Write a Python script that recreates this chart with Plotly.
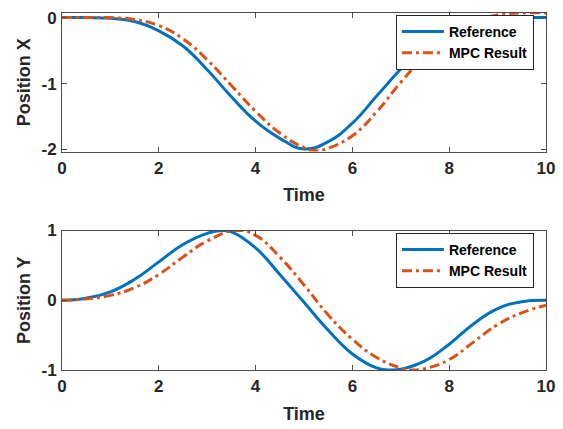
import plotly.graph_objects as go

# ---- data ----
t_x_ref = [0, 0.5, 1.0, 1.5, 2.0, 2.5, 3.0, 3.5, 4.0, 4.5, 5.0, 5.5, 6.0, 6.5, 7.0, 7.5, 8.0, 8.5, 9.0, 9.5, 10]
x_ref = [0, 0.0, -0.01, -0.06, -0.20, -0.43, -0.79, -1.20, -1.57, -1.83, -1.99, -1.88, -1.60, -1.19, -0.78, -0.42, -0.18, -0.06, -0.01, 0.0, 0.0]

t_x_mpc = [0, 0.5, 1.0, 1.5, 2.0, 2.5, 3.0, 3.5, 4.0, 4.5, 5.0, 5.25, 5.5, 6.0, 6.5, 7.0, 7.5, 8.0, 8.5, 9.0, 9.5, 10]
x_mpc = [0, 0.0, 0.0, -0.03, -0.12, -0.32, -0.64, -1.03, -1.42, -1.75, -1.97, -2.02, -1.98, -1.79, -1.43, -0.98, -0.58, -0.27, -0.07, 0.04, 0.07, 0.07]

t_y_ref = [0, 0.5, 1.0, 1.5, 2.0, 2.5, 3.0, 3.3, 3.5, 4.0, 4.5, 5.0, 5.5, 6.0, 6.5, 6.8, 7.0, 7.5, 8.0, 8.5, 9.0, 9.5, 10]
y_ref = [0, 0.03, 0.12, 0.30, 0.55, 0.80, 0.96, 1.0, 0.98, 0.75, 0.37, -0.03, -0.43, -0.77, -0.97, -1.0, -0.99, -0.87, -0.63, -0.34, -0.12, -0.02, 0.0]

t_y_mpc = [0, 0.5, 1.0, 1.5, 2.0, 2.5, 3.0, 3.6, 4.0, 4.5, 5.0, 5.5, 6.0, 6.5, 7.0, 7.2, 7.5, 8.0, 8.5, 9.0, 9.5, 10]
y_mpc = [0, 0.02, 0.07, 0.18, 0.37, 0.62, 0.85, 1.0, 0.93, 0.62, 0.22, -0.21, -0.56, -0.82, -0.97, -1.0, -0.98, -0.85, -0.60, -0.35, -0.18, -0.07]

x_ticks = [0, 2, 4, 6, 8, 10]
x_ticktext = ["0", "2", "4", "6", "8", "10"]
yx_ticks = [-2, -1, 0]
yx_ticktext = ["-2", "-1", "0"]
yy_ticks = [-1, 0, 1]
yy_ticktext = ["-1", "0", "1"]

series_names = ["Reference", "MPC Result"]

# ---- styling ----
BLUE = "#0072BD"
ORANGE = "#D95319"
AX = "#4d4d4d"
TXT = "#262626"
FONT = "Arial, Liberation Sans, sans-serif"
DASHDOT = "10px,4px,3px,4px"

fig = go.Figure()

def add(t, v, name, color, dash, xa, ya, leg):
    fig.add_trace(go.Scatter(
        x=t, y=v, name=name, mode="lines",
        line=dict(color=color, width=3, dash=dash, shape="spline", smoothing=1.3),
        xaxis=xa, yaxis=ya, legend=leg))

add(t_x_ref, x_ref, series_names[0], BLUE, "solid", "x", "y", "legend")
add(t_x_mpc, x_mpc, series_names[1], ORANGE, DASHDOT, "x", "y", "legend")
add(t_y_ref, y_ref, series_names[0], BLUE, "solid", "x2", "y2", "legend2")
add(t_y_mpc, y_mpc, series_names[1], ORANGE, DASHDOT, "x2", "y2", "legend2")

tickfont = dict(family=FONT, size=17, color=TXT, weight="bold")
titlefont = dict(family=FONT, size=18, color=TXT, weight="bold")

common_x = dict(range=[0, 10], tickvals=x_ticks, ticktext=x_ticktext,
                showline=True, linecolor=AX, linewidth=1, mirror="allticks",
                ticks="inside", ticklen=5, tickcolor=AX, showgrid=False, zeroline=False,
                tickfont=tickfont, ticklabelstandoff=1,
                title=dict(text="Time", font=titlefont, standoff=11))
common_y = dict(showline=True, linecolor=AX, linewidth=1, mirror="allticks",
                ticks="inside", ticklen=5, tickcolor=AX, showgrid=False, zeroline=False,
                tickfont=tickfont, ticklabelstandoff=1)

legend_style = dict(font=dict(family=FONT, size=14, color="#000000", weight="bold"),
                    bgcolor="white", bordercolor=TXT, borderwidth=1,
                    xanchor="right", yanchor="top", itemwidth=42, tracegroupgap=0)

fig.update_layout(
    width=563, height=429,
    margin=dict(l=62, r=17, t=4, b=59),
    paper_bgcolor="white", plot_bgcolor="white",
    xaxis=dict(domain=[0, 1], anchor="y", **common_x),
    yaxis=dict(domain=[0.612, 1.0], anchor="x", range=[-2.03, 0.07],
               tickvals=yx_ticks, ticktext=yx_ticktext,
               title=dict(text="Position X", font=titlefont, standoff=6), **common_y),
    xaxis2=dict(domain=[0, 1], anchor="y2", **common_x),
    yaxis2=dict(domain=[0, 0.3907], anchor="x2", range=[-1, 1],
                tickvals=yy_ticks, ticktext=yy_ticktext,
                title=dict(text="Position Y", font=titlefont, standoff=6), **common_y),
    legend=dict(x=0.975, y=0.9945, **legend_style),
    legend2=dict(x=0.975, y=0.384, **legend_style),
)

fig.write_html("out.html")
